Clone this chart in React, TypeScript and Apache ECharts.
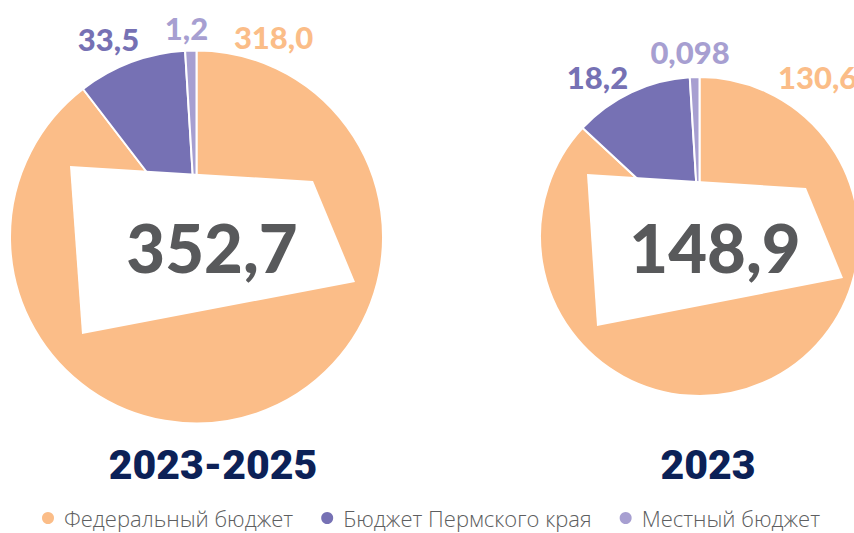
import React, { useEffect, useRef } from "react";
import * as echarts from "echarts";

const budgetNames = ["Федеральный бюджет", "Бюджет Пермского края", "Местный бюджет"];
const values20232025 = [318.0, 33.5, 1.2];
const values2023 = [130.6, 18.2, 0.098];
const periods = ["2023-2025", "2023"];
const colors = ["#fbbd88", "#7671b4", "#a79fd1"];

const fmt = (v: number) => (v < 0.1 ? String(v) : v.toFixed(1)).replace(".", ",");
const total = (arr: number[]) => arr.reduce((a, b) => a + b, 0).toFixed(1).replace(".", ",");

export default function App() {
  const ref = useRef<HTMLDivElement>(null);
  useEffect(() => {
    document.body.style.margin = "0";
    const chart = echarts.init(ref.current!, null, { renderer: "svg" });
    const numFont = "Lato";
    const labelStyle = (text: string, x: number, y: number, color: string, align = "center") => ({
      type: "text",
      x,
      y,
      z: 20,
      style: {
        text,
        fill: color,
        font: `900 31px ${numFont}`,
        textAlign: align,
        textVerticalAlign: "middle",
      },
    });
    const mkData = (vals: number[]) =>
      vals.map((v, i) => ({ name: budgetNames[i], value: v, itemStyle: { color: colors[i] } }));
    const pieCommon = {
      type: "pie",
      startAngle: 90,
      clockwise: true,
      minAngle: 3.5,
      label: { show: false },
      labelLine: { show: false },
      emphasis: { disabled: true },
      itemStyle: { borderColor: "#fff", borderWidth: 2 },
      silent: true,
    };
    chart.setOption({
      animation: false,
      color: colors,
      legend: {
        data: budgetNames,
        top: 507,
        left: 40,
        padding: 0,
        icon: "circle",
        itemWidth: 14,
        itemHeight: 14,
        itemGap: 26,
        textStyle: {
          fontFamily: "Open Sans",
          fontSize: 22,
          lineHeight: 22,
          color: "#5d5e60",
          fontWeight: 300,
          padding: [0, 0, 0, 4],
        },
      },
      series: [
        { ...pieCommon, center: [196.5, 237], radius: 186.5, data: mkData(values20232025) },
        { ...pieCommon, center: [699.5, 236.5], radius: 159.5, data: mkData(values2023) },
      ],
      graphic: [
        {
          type: "polygon",
          z: 10,
          shape: { points: [[70, 166], [313, 181], [355, 282], [82, 334]] },
          style: { fill: "#ffffff" },
        },
        {
          type: "polygon",
          z: 10,
          shape: { points: [[587, 174], [806, 188], [843, 278], [597, 326]] },
          style: { fill: "#ffffff" },
        },
        {
          type: "text",
          x: 212,
          y: 247,
          z: 20,
          style: {
            text: total(values20232025),
            fill: "#58595b",
            font: `900 67px ${numFont}`,
            textAlign: "center",
            textVerticalAlign: "middle",
          },
        },
        {
          type: "text",
          x: 715,
          y: 247,
          z: 20,
          style: {
            text: total(values2023),
            fill: "#58595b",
            font: `900 67px ${numFont}`,
            textAlign: "center",
            textVerticalAlign: "middle",
          },
        },
        labelStyle(fmt(values20232025[1]), 108.5, 38.5, colors[1]),
        labelStyle(fmt(values20232025[2]), 186.5, 28, colors[2]),
        labelStyle(fmt(values20232025[0]), 273.5, 37, colors[0]),
        labelStyle(fmt(values2023[1]), 597.5, 76.5, colors[1]),
        labelStyle(fmt(values2023[2]), 690, 51.5, colors[2]),
        labelStyle(fmt(values2023[0]), 778, 76.5, colors[0], "left"),
        {
          type: "text",
          x: 213,
          y: 465,
          z: 20,
          style: {
            text: periods[0],
            fill: "#0c2157",
            font: `900 41px Roboto`,
            textAlign: "center",
            textVerticalAlign: "middle",
          },
        },
        {
          type: "text",
          x: 708,
          y: 465,
          z: 20,
          style: {
            text: periods[1],
            fill: "#0c2157",
            font: `900 41px Roboto`,
            textAlign: "center",
            textVerticalAlign: "middle",
          },
        },
      ],
    });
    return () => chart.dispose();
  }, []);
  return <div ref={ref} style={{ width: 854, height: 533 }} />;
}
